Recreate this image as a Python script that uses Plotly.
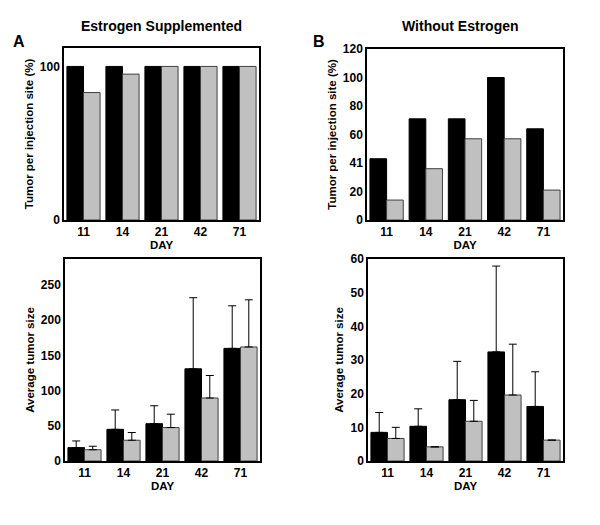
import plotly.graph_objects as go

days = ["11", "14", "21", "42", "71"]

# A top: tumor per injection site (%), estrogen supplemented
a_top_black = [100, 100, 100, 100, 100]
a_top_gray = [83, 95, 100, 100, 100]

# B top: tumor per injection site (%), without estrogen
b_top_black = [43, 71, 71, 100, 64]
b_top_gray = [14, 36, 57, 57, 21]
b_top_tickvals = [0, 20, 40, 60, 80, 100, 120]
b_top_ticktext = ["0", "20", "41", "60", "80", "100", "120"]

# A bottom: average tumor size with upper error
a_bot_black = [19, 45, 53, 131, 160]
a_bot_black_err = [9.5, 27.5, 25.5, 101, 60.5]
a_bot_gray = [16, 29.5, 47.5, 89.5, 162]
a_bot_gray_err = [5, 11, 19, 32, 67]

# B bottom
b_bot_black = [8.5, 10.3, 18.2, 32.4, 16.2]
b_bot_black_err = [5.9, 5.2, 11.4, 25.5, 10.3]
b_bot_gray = [6.7, 4.2, 11.8, 19.6, 6.2]
b_bot_gray_err = [3.3, 0, 6.2, 15.1, 0]

W, H = 600, 525
FONT = "Liberation Sans, Arial, Helvetica, sans-serif"
BLACK = "#000000"
GRAY = "#c0c0c0"


def dom_x(x0, x1):
    return [x0 / W, x1 / W]


def dom_y(y0, y1):
    return [1 - y1 / H, 1 - y0 / H]


fig = go.Figure()


def add_pair(xa, ya, black, gray, black_err=None, gray_err=None):
    for vals, err, col, line in [(black, black_err, BLACK, BLACK), (gray, gray_err, GRAY, "#404040")]:
        kw = {}
        if err is not None:
            kw["error_y"] = dict(type="data", symmetric=False, array=err,
                                 arrayminus=[0] * len(err), color="black",
                                 thickness=1, width=4)
        fig.add_trace(go.Bar(x=days, y=vals, marker=dict(color=col, line=dict(color=line, width=1)),
                             xaxis=xa, yaxis=ya, showlegend=False, **kw))


add_pair("x", "y", a_top_black, a_top_gray)
add_pair("x2", "y2", b_top_black, b_top_gray)
add_pair("x3", "y3", a_bot_black, a_bot_gray, a_bot_black_err, a_bot_gray_err)
add_pair("x4", "y4", b_bot_black, b_bot_gray, b_bot_black_err, b_bot_gray_err)

tickfont = dict(family=FONT, size=12, color="black", weight="bold")
titlefont = dict(family=FONT, size=11.5, color="black", weight="bold")

xcommon = dict(showline=True, mirror=True, linecolor="black", linewidth=1.5, ticks="",
               tickfont=tickfont, showgrid=False, zeroline=False, fixedrange=True, automargin=False,
               title=dict(text="DAY", font=titlefont, standoff=2))
ycommon = dict(showline=True, mirror=True, linecolor="black", linewidth=1.5, ticks="",
               tickfont=tickfont, showgrid=False, zeroline=False, fixedrange=True, automargin=False)

fig.update_layout(
    width=W, height=H,
    margin=dict(l=0, r=0, t=0, b=0),
    paper_bgcolor="white", plot_bgcolor="white",
    barmode="group", bargap=0.15, bargroupgap=0,
    font=dict(family=FONT, color="black"),
    hovermode=False,
    xaxis=dict(domain=dom_x(64, 259), anchor="y", **xcommon),
    yaxis=dict(domain=dom_y(48, 220), anchor="x", range=[0, 112], tickvals=[0, 100],
               title=dict(text="Tumor per injection site (%)", font=titlefont, standoff=4), **ycommon),
    xaxis2=dict(domain=dom_x(367, 563), anchor="y2", **xcommon),
    yaxis2=dict(domain=dom_y(49, 220), anchor="x2", range=[0, 120], tickvals=b_top_tickvals,
                ticktext=b_top_ticktext,
                title=dict(text="Tumor per injection site (%)", font=titlefont, standoff=4), **ycommon),
    xaxis3=dict(domain=dom_x(65, 260), anchor="y3", **xcommon),
    yaxis3=dict(domain=dom_y(259, 461), anchor="x3", range=[0, 287], dtick=50,
                title=dict(text="Average tumor size", font=titlefont, standoff=4), **ycommon),
    xaxis4=dict(domain=dom_x(368, 563), anchor="y4", **xcommon),
    yaxis4=dict(domain=dom_y(259, 461), anchor="x4", range=[0, 60], dtick=10,
                title=dict(text="Average tumor size", font=titlefont, standoff=4), **ycommon),
    annotations=[
        dict(text="Estrogen Supplemented", x=161 / W, y=1 - 26 / H, xref="paper", yref="paper",
             xanchor="center", yanchor="middle",
             showarrow=False, font=dict(family=FONT, size=14, weight="bold")),
        dict(text="Without Estrogen", x=460 / W, y=1 - 26 / H, xref="paper", yref="paper",
             xanchor="center", yanchor="middle",
             showarrow=False, font=dict(family=FONT, size=14, weight="bold")),
        dict(text="A", x=19 / W, y=1 - 41 / H, xref="paper", yref="paper",
             xanchor="center", yanchor="middle",
             showarrow=False, font=dict(family=FONT, size=16, weight="bold")),
        dict(text="B", x=319 / W, y=1 - 41 / H, xref="paper", yref="paper",
             xanchor="center", yanchor="middle",
             showarrow=False, font=dict(family=FONT, size=16, weight="bold")),
    ],
)

# the page's default body margin would shift the figure by 8px
fig.write_html("out.html", config={"displayModeBar": False},
               post_script="document.body.style.margin='0';")
